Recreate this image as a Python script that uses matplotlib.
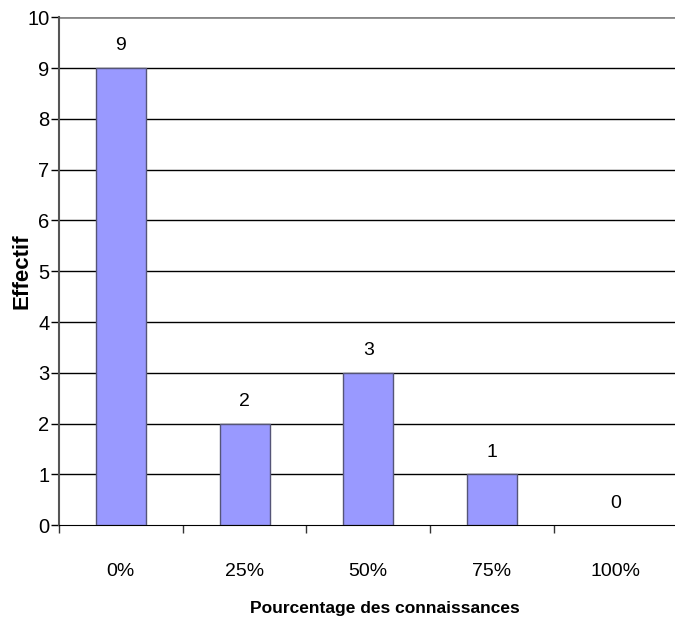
import matplotlib
matplotlib.use('Agg')
import matplotlib.pyplot as plt
import numpy as np

# Données du graphique
categories = ['0%', '25%', '50%', '75%', '100%']
effectifs = [9, 2, 3, 1, 0]

plt.rcParams['font.family'] = ['Liberation Sans', 'DejaVu Sans']

fig = plt.figure(figsize=(6.75, 6.2), dpi=100)
ax = fig.add_axes([59 / 675, 1 - 525.3 / 620, 618.5 / 675, 508 / 620])

x = np.arange(len(categories))
# pas de contour pour les barres de hauteur nulle
bords = ['#555577' if v > 0 else 'none' for v in effectifs]
barres = ax.bar(x, effectifs, width=0.405, color='#9999ff',
                edgecolor=bords, linewidth=1.0, zorder=3)

# Étiquettes de valeur au-dessus des barres
for xi, v in zip(x, effectifs):
    ax.annotate(str(v), (xi, v), xytext=(0, 16), textcoords='offset points',
                ha='center', va='center', fontsize=14)

ax.set_xlim(-0.5, len(categories) - 0.5)
ax.set_ylim(0, 10)

# Grille horizontale
ax.set_yticks(range(0, 11))
for yv in range(1, 10):
    ax.axhline(yv, color='black', linewidth=1.0, zorder=1)
ax.axhline(10, color='#888888', linewidth=2.0, zorder=1)

ax.set_xticks(x)
ax.set_xticklabels(categories, fontsize=14)
ax.set_xticks(np.arange(-0.5, len(categories)), minor=True)
ax.tick_params(axis='x', which='major', length=0, pad=27)
ax.tick_params(axis='x', which='minor', length=6, width=1, color='#333333')
ax.tick_params(axis='y', length=6, width=1, pad=1, labelsize=14.5)

for s in ['top', 'right']:
    ax.spines[s].set_visible(False)
ax.spines['left'].set_color('#555555')
ax.spines['left'].set_linewidth(1.5)
ax.spines['bottom'].set_color('black')

fig.text(22 / 675, 1 - 271 / 620, 'Effectif', rotation=90, ha='center',
         va='center', fontsize=16, fontweight='bold')
fig.text(385 / 675, 1 - 608 / 620, 'Pourcentage des connaissances',
         ha='center', va='center', fontsize=12.5, fontweight='bold')

fig.savefig('out.png', dpi=100)
